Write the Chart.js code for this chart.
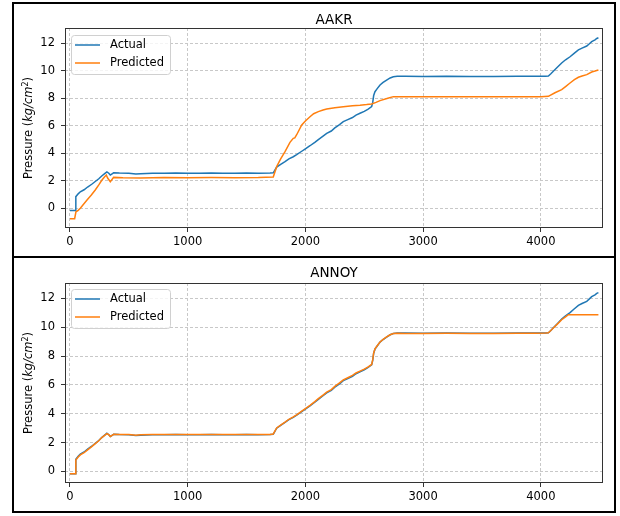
<!DOCTYPE html>
<html><head><meta charset="utf-8">
<script src="https://cdn.jsdelivr.net/npm/chart.js@4/dist/chart.umd.min.js"></script>
<style>
html,body{margin:0;padding:0;background:#fff;}
body{width:620px;height:516px;position:relative;overflow:hidden;}
.box{position:absolute;left:12px;width:600px;border:2px solid #000;}
#b1{top:2px;height:252px;}
#b2{top:256px;height:253px;}
canvas{position:absolute;left:0;top:0;}
</style></head>
<body>
<div class="box" id="b1"><canvas id="c1" width="600" height="252"></canvas></div>
<div class="box" id="b2"><canvas id="c2" width="600" height="253"></canvas></div>
<script>
// ---- data ----
const titles = ['AAKR', 'ANNOY'];
const seriesLabels = ['Actual', 'Predicted'];
const seriesColors = ['#1f77b4', '#ff7f0e'];
const xTicks = [0, 1000, 2000, 3000, 4000];
const yTicks = [0, 2, 4, 6, 8, 10, 12];
const xRange = [-42, 4528];
const aakrYRange = [-1.43, 13.11];
const annoyYRange = [-0.8, 13.07];

const actualX = [0, 45, 50, 70, 88, 120, 150, 185, 215, 245, 270, 295, 314, 330, 343, 371, 420, 500, 560, 600, 700, 800, 900, 1000, 1100, 1200, 1300, 1400, 1500, 1600, 1700, 1727, 1756, 1790, 1827, 1860, 1897, 1926, 1969, 2000, 2039, 2080, 2110, 2150, 2181, 2220, 2250, 2290, 2322, 2360, 2400, 2430, 2464, 2500, 2530, 2563, 2572, 2580, 2591, 2610, 2634, 2660, 2690, 2720, 2747, 2780, 2850, 3000, 3200, 3400, 3600, 3800, 3950, 4040, 4064, 4085, 4106, 4140, 4177, 4210, 4248, 4280, 4319, 4350, 4390, 4410, 4432, 4460, 4475, 4489];
const actualY = [-0.15, -0.15, 0.85, 1.05, 1.2, 1.35, 1.55, 1.75, 1.95, 2.15, 2.35, 2.52, 2.65, 2.55, 2.42, 2.58, 2.56, 2.55, 2.5, 2.52, 2.55, 2.55, 2.56, 2.55, 2.55, 2.56, 2.55, 2.55, 2.56, 2.55, 2.56, 2.58, 3.0, 3.2, 3.4, 3.6, 3.75, 3.9, 4.15, 4.33, 4.55, 4.8, 5.0, 5.25, 5.45, 5.62, 5.85, 6.08, 6.3, 6.45, 6.6, 6.78, 6.91, 7.05, 7.2, 7.4, 7.7, 8.2, 8.48, 8.7, 8.97, 9.15, 9.32, 9.48, 9.57, 9.6, 9.6, 9.58, 9.6, 9.58, 9.59, 9.6, 9.6, 9.6, 9.62, 9.78, 9.96, 10.25, 10.57, 10.8, 11.02, 11.25, 11.52, 11.65, 11.8, 11.95, 12.12, 12.25, 12.35, 12.4];

const aakrX = [0, 40, 51, 70, 88, 145, 180, 215, 245, 272, 295, 309, 320, 343, 371, 450, 600, 800, 1000, 1200, 1400, 1600, 1727, 1756, 1790, 1827, 1869, 1897, 1910, 1926, 1969, 2000, 2039, 2070, 2110, 2150, 2181, 2250, 2322, 2400, 2464, 2520, 2563, 2600, 2634, 2700, 2747, 2850, 3000, 3200, 3400, 3600, 3800, 4000, 4064, 4120, 4177, 4210, 4248, 4285, 4319, 4350, 4390, 4432, 4460, 4489];
const aakrY = [-0.75, -0.75, -0.25, -0.15, 0.0, 0.6, 0.95, 1.33, 1.7, 2.06, 2.3, 2.42, 2.2, 1.94, 2.25, 2.22, 2.2, 2.24, 2.23, 2.24, 2.23, 2.24, 2.28, 3.03, 3.6, 4.12, 4.8, 5.09, 5.12, 5.35, 6.06, 6.35, 6.66, 6.88, 7.03, 7.15, 7.22, 7.32, 7.39, 7.45, 7.49, 7.54, 7.59, 7.7, 7.83, 8.0, 8.12, 8.12, 8.12, 8.12, 8.11, 8.12, 8.12, 8.12, 8.14, 8.4, 8.63, 8.85, 9.11, 9.35, 9.53, 9.62, 9.72, 9.91, 9.98, 10.06];

const annoyX = [0, 45, 50, 70, 88, 120, 150, 185, 215, 245, 270, 295, 314, 330, 343, 371, 420, 500, 560, 600, 700, 800, 900, 1000, 1100, 1200, 1300, 1400, 1500, 1600, 1700, 1727, 1756, 1790, 1827, 1860, 1897, 1926, 1969, 2000, 2039, 2080, 2110, 2150, 2181, 2220, 2250, 2290, 2322, 2360, 2400, 2430, 2464, 2500, 2530, 2563, 2572, 2580, 2591, 2610, 2634, 2660, 2690, 2720, 2747, 2780, 2850, 3000, 3200, 3400, 3600, 3800, 3950, 4040, 4064, 4085, 4106, 4140, 4177, 4210, 4234, 4300, 4400, 4489];
const annoyY = [-0.15, -0.15, 0.8, 1.0, 1.15, 1.3, 1.5, 1.72, 1.93, 2.13, 2.35, 2.5, 2.62, 2.55, 2.42, 2.58, 2.57, 2.56, 2.52, 2.54, 2.56, 2.56, 2.57, 2.56, 2.56, 2.57, 2.56, 2.56, 2.57, 2.56, 2.57, 2.6, 3.02, 3.22, 3.42, 3.62, 3.78, 3.93, 4.18, 4.36, 4.58, 4.84, 5.05, 5.3, 5.5, 5.68, 5.9, 6.14, 6.35, 6.5, 6.66, 6.83, 6.96, 7.1, 7.24, 7.42, 7.75, 8.22, 8.5, 8.72, 8.98, 9.16, 9.33, 9.48, 9.56, 9.58, 9.57, 9.57, 9.58, 9.56, 9.57, 9.58, 9.59, 9.6, 9.62, 9.78, 9.95, 10.22, 10.52, 10.72, 10.87, 10.87, 10.87, 10.87];

// ---- drawing ----
const FONT = '"DejaVu Sans"';
const pts = (xs, ys) => xs.map((x, i) => ({x: x, y: ys[i]}));

const decor = {
  id: 'decor',
  afterDraw(chart, args, o) {
    const ctx = chart.ctx, a = chart.chartArea;
    ctx.save();
    // spines
    ctx.strokeStyle = '#333';
    ctx.lineWidth = 1;
    ctx.strokeRect(Math.round(a.left) + 0.5, Math.round(a.top) + 0.5,
                   Math.round(a.right - a.left) - 1, Math.round(a.bottom - a.top) - 1);
    // title
    ctx.fillStyle = '#000';
    ctx.font = '13.5px ' + FONT;
    ctx.textAlign = 'center';
    ctx.textBaseline = 'alphabetic';
    ctx.fillText(o.title, (a.left + a.right) / 2, o.titleY);
    // y label
    ctx.save();
    ctx.translate(14, (a.top + a.bottom) / 2);
    ctx.rotate(-Math.PI / 2);
    const segs = [
      {t: 'Pressure (', f: '11.5px ' + FONT, dy: 0},
      {t: 'kg/cm', f: 'italic 11.5px ' + FONT, dy: 0},
      {t: '2', f: '8px ' + FONT, dy: -4.5},
      {t: ')', f: '11.5px ' + FONT, dy: 0}
    ];
    let total = 0;
    segs.forEach(s => { ctx.font = s.f; s.w = ctx.measureText(s.t).width; total += s.w; });
    let cx = -total / 2;
    ctx.textAlign = 'left';
    segs.forEach(s => { ctx.font = s.f; ctx.fillText(s.t, cx, 4 + s.dy); cx += s.w; });
    ctx.restore();
    // legend
    const lx = Math.round(a.left) + 6, ly = Math.round(a.top) + o.legendDy, lw = 99, lh = 39;
    ctx.beginPath();
    ctx.roundRect(lx + 0.5, ly + 0.5, lw, lh, 3);
    ctx.fillStyle = 'rgba(255,255,255,0.8)';
    ctx.fill();
    ctx.strokeStyle = '#d0d0d0';
    ctx.lineWidth = 1;
    ctx.stroke();
    ctx.font = '11.5px ' + FONT;
    ctx.textBaseline = 'middle';
    ctx.textAlign = 'left';
    seriesLabels.forEach((lab, i) => {
      const y = ly + 10 + i * 18;
      ctx.strokeStyle = seriesColors[i];
      ctx.lineWidth = 1.5;
      ctx.beginPath();
      ctx.moveTo(lx + 4, y);
      ctx.lineTo(lx + 29, y);
      ctx.stroke();
      ctx.fillStyle = '#000';
      ctx.fillText(lab, lx + 39, y + 0.5);
    });
    ctx.restore();
  }
};

function makeChart(id, idx, predX, predY, yRange, topPad, titleY, legendDy) {
  const canvas = document.getElementById(id);
  const xAxisH = canvas.height - topPad - 200;
  return new Chart(canvas, {
    type: 'line',
    data: {
      datasets: [
        {label: seriesLabels[0], data: pts(actualX, actualY), borderColor: seriesColors[0],
         borderWidth: 1.5, pointRadius: 0, fill: false, tension: 0, order: 1},
        {label: seriesLabels[1], data: pts(predX, predY), borderColor: seriesColors[1],
         borderWidth: 1.5, pointRadius: 0, fill: false, tension: 0, order: 0}
      ]
    },
    options: {
      responsive: false,
      animation: false,
      devicePixelRatio: 1,
      layout: {padding: {top: topPad, right: 11, left: 0, bottom: 0}},
      plugins: {
        legend: {display: false},
        tooltip: {enabled: false},
        title: {display: false},
        decor: {title: titles[idx], titleY: titleY, legendDy: legendDy}
      },
      scales: {
        x: {
          type: 'linear', min: xRange[0], max: xRange[1], bounds: 'data',
          afterBuildTicks: s => { s.ticks = xTicks.map(v => ({value: v})); },
          afterFit: s => { s.height = xAxisH; },
          ticks: {font: {family: 'DejaVu Sans', size: 11.5}, color: '#000', padding: 3,
                  maxRotation: 0, autoSkip: false, callback: v => String(v)},
          grid: {color: '#c8c8c8', lineWidth: 1, tickColor: '#333', tickLength: 4, drawTicks: true},
          border: {display: false, dash: [3, 2]}
        },
        y: {
          type: 'linear', min: yRange[0], max: yRange[1], bounds: 'data',
          afterBuildTicks: s => { s.ticks = yTicks.map(v => ({value: v})); },
          afterFit: s => { s.width = 51; },
          ticks: {font: {family: 'DejaVu Sans', size: 11.5}, color: '#000', padding: 6,
                  autoSkip: false, callback: v => String(v)},
          grid: {color: '#c8c8c8', lineWidth: 1, tickColor: '#333', tickLength: 4, drawTicks: true},
          border: {display: false, dash: [3, 2]}
        }
      }
    },
    plugins: [decor]
  });
}

makeChart('c1', 0, aakrX, aakrY, aakrYRange, 24, 19.5, 7);
makeChart('c2', 1, annoyX, annoyY, annoyYRange, 25, 19, 6);
</script>
</body></html>
